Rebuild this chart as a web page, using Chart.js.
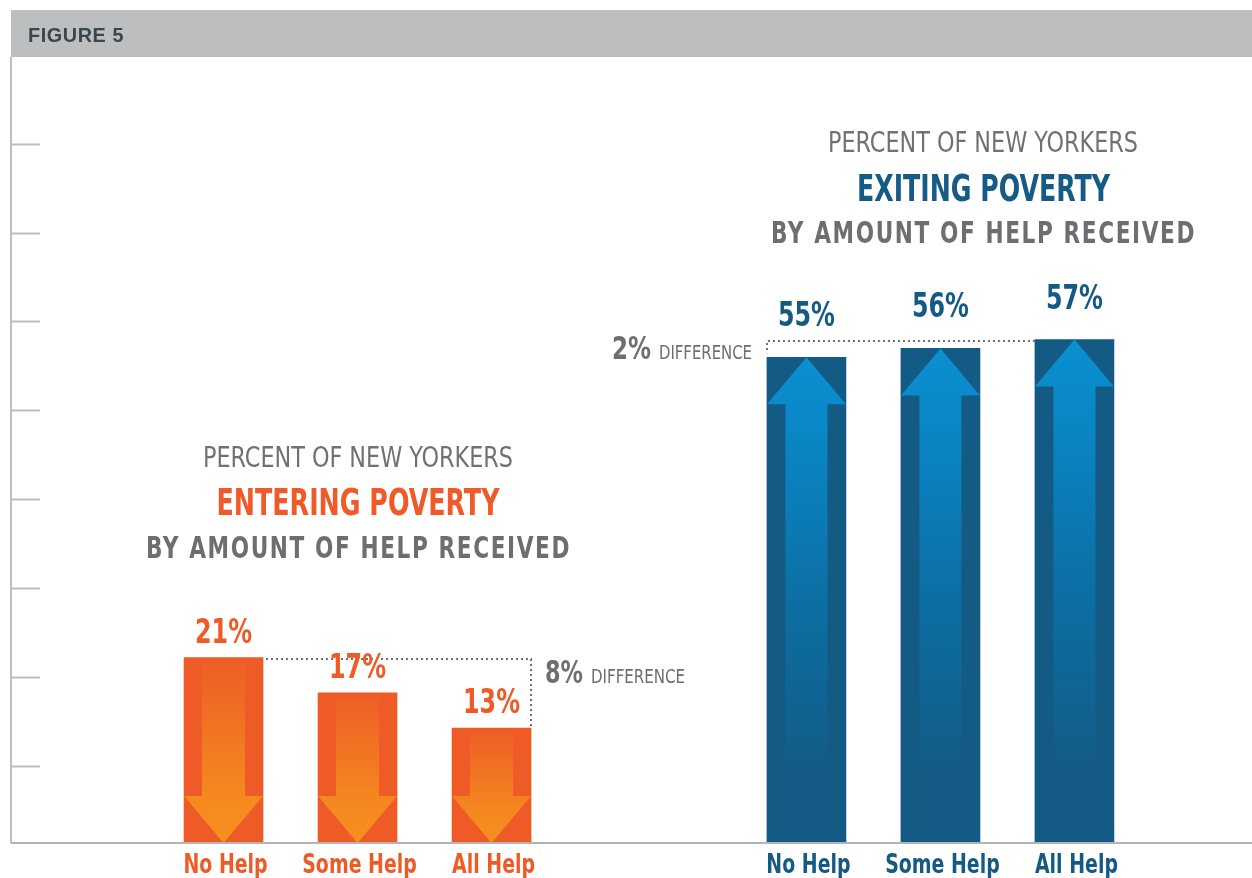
<!DOCTYPE html>
<html>
<head>
<meta charset="utf-8">
<title>Figure 5</title>
<script src="https://cdn.jsdelivr.net/npm/chart.js@4/dist/chart.umd.min.js"></script>
<style>
  html, body { margin: 0; padding: 0; background: #fff; }
  #wrap { position: relative; width: 1252px; height: 878px; }
</style>
</head>
<body>
<div id="wrap"><canvas id="chartPobreza"></canvas></div>
<script>
// ===============================
// DADOS
// ===============================
const categorias = ["No Help", "Some Help", "All Help"];
const entrando = [21, 17, 13];          // entering poverty (%)
const saindo = [55, 56, 57];            // exiting poverty (%)
const posEntrando = [1, 2, 3];          // slot on the x scale
const posSaindo = [5.35, 6.35, 7.35];
const marcasY = [8.7, 18.8, 28.9, 39, 49, 59.1, 69.1, 79.2];

const LARANJA = "#ef5b26";
const AZUL = "#135a84";
const CINZA = "#6d6e71";
const FONTE = "'Liberation Sans Narrow', 'DejaVu Sans Condensed', 'Liberation Sans', sans-serif";

// ===============================
// TEXTO (com largura ajustada)
// ===============================
function texto(ctx, str, x, y, o) {
    ctx.save();
    ctx.font = `${o.weight || 400} ${o.size}px ${o.family || FONTE}`;
    ctx.letterSpacing = (o.spacing || 0) + "px";
    const w = ctx.measureText(str).width;
    const sx = o.width ? o.width / w : (o.squeeze || 1);
    ctx.translate(x, y);
    ctx.scale(sx, 1);
    ctx.textAlign = o.align || "center";
    ctx.textBaseline = "alphabetic";
    ctx.fillStyle = o.color;
    ctx.fillText(str, 0, 0);
    ctx.restore();
}

function pontilhado(ctx, pts) {
    ctx.save();
    ctx.strokeStyle = CINZA;
    ctx.lineWidth = 2;
    ctx.setLineDash([2, 3]);
    ctx.beginPath();
    ctx.moveTo(pts[0][0], pts[0][1]);
    pts.slice(1).forEach(p => ctx.lineTo(p[0], p[1]));
    ctx.stroke();
    ctx.restore();
}

// ===============================
// PLUGIN — decoração
// ===============================
const decoracao = {
    id: "decoracao",
    beforeDraw(chart) {
        const { ctx, chartArea: a, scales: { y } } = chart;
        ctx.save();
        ctx.fillStyle = "#fff";
        ctx.fillRect(0, 0, chart.width, chart.height);
        // cabeçalho
        ctx.fillStyle = "#bcbec0";
        ctx.fillRect(a.left, 10, chart.width - a.left, a.top - 10);
        ctx.restore();
        texto(ctx, "FIGURE 5", 28, 42, { size: 21, weight: 700, family: "'Liberation Sans', sans-serif",
            color: "#3a464e", align: "left", spacing: 0.6, width: 96 });

        // eixo vertical + marcas
        ctx.save();
        ctx.strokeStyle = "#bcbec0";
        ctx.lineWidth = 2;
        ctx.beginPath();
        ctx.moveTo(a.left, a.top);
        ctx.lineTo(a.left, y.getPixelForValue(0));
        marcasY.forEach(v => {
            const py = Math.round(y.getPixelForValue(v)) + 0.5;
            ctx.moveTo(a.left, py);
            ctx.lineTo(a.left + 29, py);
        });
        ctx.stroke();
        ctx.restore();
    },
    afterDatasetsDraw(chart) {
        const { ctx, chartArea: a, scales: { y } } = chart;
        const barrasL = chart.getDatasetMeta(0).data;
        const barrasA = chart.getDatasetMeta(1).data;

        // setas laranja (para baixo)
        barrasL.forEach(b => {
            const { x, y: top, base, width } = b.getProps(["x", "y", "base", "width"], true);
            const cab = 47, haste = 43;
            const g = ctx.createLinearGradient(0, top, 0, base);
            g.addColorStop(0, "#ee5d26");
            g.addColorStop(0.75, "#f5891f");
            g.addColorStop(1, "#f6901e");
            ctx.save();
            ctx.fillStyle = g;
            ctx.beginPath();
            ctx.moveTo(x - haste / 2, top + 4);
            ctx.lineTo(x + haste / 2, top + 4);
            ctx.lineTo(x + haste / 2, base - cab);
            ctx.lineTo(x + width / 2, base - cab);
            ctx.lineTo(x, base);
            ctx.lineTo(x - width / 2, base - cab);
            ctx.lineTo(x - haste / 2, base - cab);
            ctx.closePath();
            ctx.fill();
            ctx.restore();
        });

        // setas azuis (para cima)
        barrasA.forEach(b => {
            const { x, y: top, base, width } = b.getProps(["x", "y", "base", "width"], true);
            const cab = 47, haste = 42;
            const g = ctx.createLinearGradient(0, top, 0, base);
            g.addColorStop(0, "#0a90d2");
            g.addColorStop(0.15, "#0a87c6");
            g.addColorStop(0.5, "#0c6fa4");
            g.addColorStop(0.88, AZUL);
            g.addColorStop(1, AZUL);
            ctx.save();
            ctx.fillStyle = g;
            ctx.beginPath();
            ctx.moveTo(x, top);
            ctx.lineTo(x + width / 2, top + cab);
            ctx.lineTo(x + haste / 2, top + cab);
            ctx.lineTo(x + haste / 2, base);
            ctx.lineTo(x - haste / 2, base);
            ctx.lineTo(x - haste / 2, top + cab);
            ctx.lineTo(x - width / 2, top + cab);
            ctx.closePath();
            ctx.fill();
            ctx.restore();
        });

        // linha de base
        const y0 = y.getPixelForValue(0);
        ctx.save();
        ctx.strokeStyle = "#b3b4b7";
        ctx.lineWidth = 2;
        ctx.beginPath();
        ctx.moveTo(a.left, y0);
        ctx.lineTo(chart.width, y0);
        ctx.stroke();
        ctx.restore();

        // diferença — entrando
        const l0 = barrasL[0], l2 = barrasL[barrasL.length - 1];
        const topoL = Math.round(l0.y) + 1;
        pontilhado(ctx, [[l0.x + l0.width / 2 + 3, topoL], [l2.x + l2.width / 2, topoL], [l2.x + l2.width / 2, l2.y]]);
        const difL = Math.max(...entrando) - Math.min(...entrando);
        const xL = l2.x + l2.width / 2 + 14;
        texto(ctx, difL + "%", xL, topoL + 24, { size: 32, weight: 700, color: CINZA, align: "left", width: 38 });
        texto(ctx, "DIFFERENCE", xL + 46, topoL + 24, { size: 20, weight: 400, color: CINZA, align: "left", width: 94 });

        // diferença — saindo
        const a0 = barrasA[0], a2 = barrasA[barrasA.length - 1];
        const topoA = Math.round(a2.y) + 1;
        const xA = a0.x - a0.width / 2;
        pontilhado(ctx, [[a2.x - a2.width / 2, topoA], [xA, topoA], [xA, a0.y - 4]]);
        const difA = Math.max(...saindo) - Math.min(...saindo);
        texto(ctx, "DIFFERENCE", xA - 15, topoA + 18, { size: 20, weight: 400, color: CINZA, align: "right", width: 93 });
        texto(ctx, difA + "%", xA - 116, topoA + 18, { size: 32, weight: 700, color: CINZA, align: "right", width: 39 });

        // valores e categorias (por cima do pontilhado)
        barrasL.forEach((b, i) => {
            texto(ctx, entrando[i] + "%", b.x, b.y - 15, { size: 34, weight: 700, color: LARANJA, width: 57 });
            texto(ctx, categorias[i], b.x + 2, 873, { size: 26, weight: 700, color: LARANJA, squeeze: 0.81 });
        });
        barrasA.forEach((b, i) => {
            texto(ctx, saindo[i] + "%", b.x, b.y - 31, { size: 34, weight: 700, color: AZUL, width: 57 });
            texto(ctx, categorias[i], b.x + 2, 873, { size: 26, weight: 700, color: AZUL, squeeze: 0.81 });
        });
    },
    afterDraw(chart) {
        const { ctx } = chart;
        // títulos
        texto(ctx, "PERCENT OF NEW YORKERS", 358, 467, { size: 29, weight: 400, color: "#707174", width: 310 });
        texto(ctx, "ENTERING POVERTY", 358, 515, { size: 38, weight: 700, color: "#f05a28", width: 283 });
        texto(ctx, "BY AMOUNT OF HELP RECEIVED", 358.5, 558, { size: 30, weight: 700, color: CINZA, spacing: 2, width: 425 });

        texto(ctx, "PERCENT OF NEW YORKERS", 983, 152, { size: 29, weight: 400, color: "#707174", width: 310 });
        texto(ctx, "EXITING POVERTY", 983.5, 201, { size: 38, weight: 700, color: "#155b86", width: 253 });
        texto(ctx, "BY AMOUNT OF HELP RECEIVED", 983.5, 243, { size: 30, weight: 700, color: CINZA, spacing: 2, width: 425 });
    }
};

// ===============================
// GRÁFICO
// ===============================
const el = document.getElementById("chartPobreza");

new Chart(el, {
    type: "bar",
    data: {
        datasets: [
            {
                label: "Entering poverty",
                data: entrando.map((v, i) => ({ x: posEntrando[i], y: v })),
                backgroundColor: LARANJA,
                barThickness: 79,
                grouped: false
            },
            {
                label: "Exiting poverty",
                data: saindo.map((v, i) => ({ x: posSaindo[i], y: v })),
                backgroundColor: AZUL,
                barThickness: 79,
                grouped: false
            }
        ]
    },
    options: {
        responsive: true,
        maintainAspectRatio: false,
        animation: false,
        layout: { padding: { left: 11, right: 0, top: 57, bottom: 35 } },
        plugins: {
            legend: { display: false },
            tooltip: { enabled: false }
        },
        scales: {
            x: { type: "linear", min: -0.586, max: 8.675, offset: false, display: false },
            y: { min: 0, max: 89, display: false }
        }
    },
    plugins: [decoracao]
});
</script>
</body>
</html>
